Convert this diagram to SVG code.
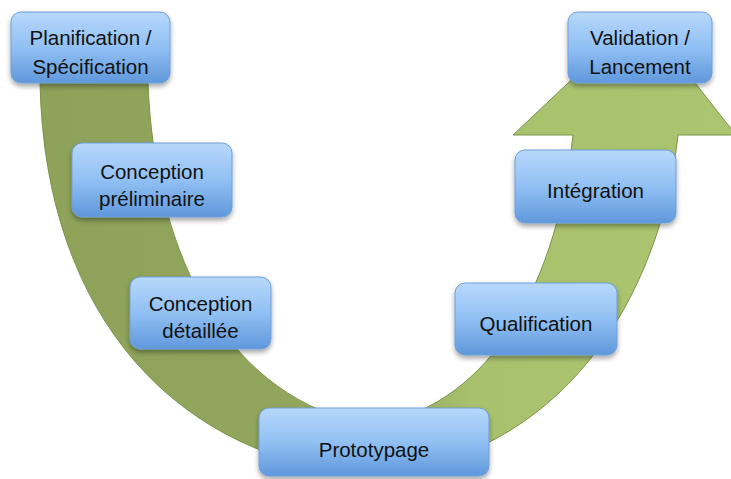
<svg xmlns="http://www.w3.org/2000/svg" width="731" height="479" viewBox="0 0 731 479">
<defs>
<linearGradient id="gArrow" x1="0" y1="0" x2="1" y2="0">
<stop offset="0" stop-color="#8ea25a"/>
<stop offset="0.5" stop-color="#93a85e"/>
<stop offset="0.62" stop-color="#a8c16d"/>
<stop offset="1" stop-color="#abc570"/>
</linearGradient>
<linearGradient id="gBox" x1="0" y1="0" x2="0" y2="1">
<stop offset="0" stop-color="#b7d8fb"/>
<stop offset="0.5" stop-color="#91c0f3"/>
<stop offset="1" stop-color="#5f98dc"/>
</linearGradient>
<filter id="shadow" x="-10%" y="-10%" width="120%" height="130%">
<feDropShadow dx="0" dy="3" stdDeviation="2.5" flood-color="#000" flood-opacity="0.35"/>
</filter>
</defs>
<style>
.box{fill:url(#gBox);stroke:#6e9fd8;stroke-width:1;filter:url(#shadow)}
.lbl{font-family:"Liberation Sans",Arial,sans-serif;font-size:20.5px;fill:#111;text-anchor:middle}
.arrow{fill:url(#gArrow);stroke:#7a9448;stroke-width:1}
</style>
<g id="connectors">
<path class="arrow" d="M40,60 L40,83 C45,320 180,460 370,475 C560,460 660,300 678,135 L736,135 L641,14 L513,135 L573,135 C555,300 480,410 370,425 C230,400 155,260 148,83 L148,60 Z"/>
</g>
<g id="planification">
<rect class="box" x="11" y="12" width="159" height="71" rx="10"/>
<text class="lbl" x="90.5" y="45">Planification /</text>
<text class="lbl" x="90.5" y="74">Spécification</text>
</g>
<g id="validation">
<rect class="box" x="568" y="12" width="144" height="71" rx="10"/>
<text class="lbl" x="640" y="45">Validation /</text>
<text class="lbl" x="640" y="74">Lancement</text>
</g>
<g id="conception-preliminaire">
<rect class="box" x="72" y="143" width="160" height="74" rx="10"/>
<text class="lbl" x="152" y="179">Conception</text>
<text class="lbl" x="152" y="206">préliminaire</text>
</g>
<g id="conception-detaillee">
<rect class="box" x="130" y="277" width="141" height="72" rx="10"/>
<text class="lbl" x="200.5" y="311">Conception</text>
<text class="lbl" x="200.5" y="338">détaillée</text>
</g>
<g id="prototypage">
<rect class="box" x="259" y="408" width="230" height="68" rx="10"/>
<text class="lbl" x="374" y="457">Prototypage</text>
</g>
<g id="qualification">
<rect class="box" x="455" y="283" width="162" height="72" rx="10"/>
<text class="lbl" x="536" y="331">Qualification</text>
</g>
<g id="integration">
<rect class="box" x="515" y="150" width="161" height="73" rx="10"/>
<text class="lbl" x="595.5" y="198">Intégration</text>
</g>
</svg>
